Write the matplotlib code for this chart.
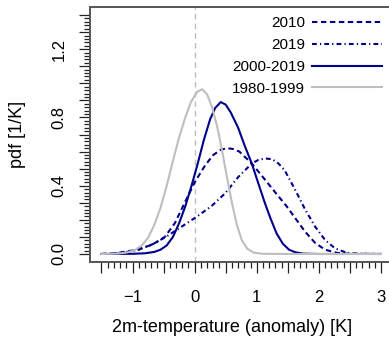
import matplotlib
matplotlib.use('Agg')
import matplotlib.pyplot as plt
from matplotlib.ticker import FixedLocator, FixedFormatter

plt.rcParams['font.family'] = ['Liberation Sans', 'DejaVu Sans']

# ---- data ----
x_1980_1999 = [-1.5, -1.25, -1.1, -0.96, -0.85, -0.75, -0.65, -0.55, -0.45, -0.36, -0.26,
               -0.16, -0.06, 0.04, 0.12, 0.20, 0.28, 0.36, 0.44, 0.52, 0.60, 0.68, 0.76,
               0.85, 0.95, 1.1, 1.5, 3.0]
y_1980_1999 = [0.0, 0.002, 0.008, 0.023, 0.05, 0.095, 0.17, 0.27, 0.40, 0.53, 0.67,
               0.79, 0.89, 0.95, 0.965, 0.935, 0.86, 0.75, 0.61, 0.45, 0.30, 0.17, 0.08,
               0.03, 0.008, 0.001, 0.0, 0.0]

x_2000_2019 = [-1.5, -1.0, -0.8, -0.65, -0.55, -0.45, -0.35, -0.25, -0.15, -0.05, 0.05,
               0.15, 0.25, 0.33, 0.42, 0.50, 0.58, 0.70, 0.80, 0.92, 1.02, 1.12, 1.22,
               1.32, 1.42, 1.52, 1.62, 1.75, 2.0, 3.0]
y_2000_2019 = [0.0, 0.001, 0.004, 0.012, 0.025, 0.05, 0.10, 0.18, 0.28, 0.40, 0.53,
               0.67, 0.79, 0.855, 0.89, 0.875, 0.83, 0.74, 0.64, 0.53, 0.42, 0.31, 0.21,
               0.12, 0.06, 0.025, 0.01, 0.002, 0.0, 0.0]

x_2010 = [-1.5, -1.28, -0.96, -0.69, -0.48, -0.32, -0.16, 0.0, 0.17, 0.30, 0.42, 0.52,
          0.62, 0.72, 0.92, 1.1, 1.3, 1.48, 1.62, 1.78, 1.94, 2.1, 2.3, 2.5, 3.0]
y_2010 = [0.0, 0.004, 0.023, 0.053, 0.10, 0.18, 0.30, 0.42, 0.52, 0.58, 0.61, 0.62,
          0.615, 0.60, 0.53, 0.45, 0.36, 0.28, 0.21, 0.13, 0.065, 0.025, 0.006, 0.001, 0.0]

x_2019 = [-1.5, -1.23, -0.91, -0.64, -0.42, -0.21, 0.0, 0.27, 0.49, 0.70, 0.92, 1.02,
          1.13, 1.25, 1.35, 1.45, 1.62, 1.78, 1.94, 2.10, 2.26, 2.47, 2.7, 3.0]
y_2019 = [0.0, 0.004, 0.023, 0.063, 0.11, 0.16, 0.21, 0.28, 0.355, 0.45, 0.53, 0.55,
          0.56, 0.555, 0.53, 0.49, 0.375, 0.26, 0.16, 0.082, 0.033, 0.004, 0.001, 0.0]

x_ticks_major = [-1.5, -1.0, -0.5, 0.0, 0.5, 1.0, 1.5, 2.0, 2.5, 3.0]
x_tick_labels = ['', '\u22121', '', '0', '', '1', '', '2', '', '3']
y_ticks_major = [0.0, 0.1, 0.2, 0.3, 0.4, 0.5, 0.6, 0.7, 0.8, 0.9, 1.0, 1.1, 1.2, 1.3, 1.4]
y_tick_labels = ['0.0', '', '', '', '0.4', '', '', '', '0.8', '', '', '', '1.2', '', '']

BLUE = '#00008B'
GREY = '#BEBEBE'

fig = plt.figure(figsize=(3.89, 3.39), dpi=100)
W, H = 389, 339
ax = fig.add_axes([90 / W, 77 / H, 303 / W, 255 / H])

ax.axvline(0, color=GREY, lw=1.0, ls=(0, (4, 3)), zorder=1)

l2010, = ax.plot(x_2010, y_2010, color=BLUE, lw=1.5, ls=(0, (2.6, 1.7)), label='2010')
l2019, = ax.plot(x_2019, y_2019, color=BLUE, lw=1.5, ls=(0, (2.3, 1.5, 0.6, 1.5)), label='2019')
l0019, = ax.plot(x_2000_2019, y_2000_2019, color=BLUE, lw=1.5, ls='-', label='2000-2019')
l8099, = ax.plot(x_1980_1999, y_1980_1999, color=GREY, lw=1.5, ls='-', label='1980-1999')

ax.set_xlim(-1.685, 3.194)
ax.set_ylim(-0.047, 1.447)

ax.xaxis.set_major_locator(FixedLocator(x_ticks_major))
ax.xaxis.set_major_formatter(FixedFormatter(x_tick_labels))
ax.xaxis.set_minor_locator(FixedLocator([round(-1.5 + 0.1 * i, 2) for i in range(46)]))
ax.yaxis.set_major_locator(FixedLocator(y_ticks_major))
ax.yaxis.set_major_formatter(FixedFormatter(y_tick_labels))
ax.yaxis.set_minor_locator(FixedLocator([round(0.02 * i, 2) for i in range(71)]))

ax.tick_params(which='major', length=8, width=0.9, color='#222222', labelsize=12, direction='out')
ax.tick_params(which='minor', length=4.5, width=0.9, color='#222222', direction='out')
ax.tick_params(axis='x', which='major', pad=12)
ax.tick_params(axis='y', which='major', pad=9)
for lab in ax.get_yticklabels():
    lab.set_rotation(90)
    lab.set_va('center')

for s in ['left', 'top', 'bottom']:
    ax.spines[s].set_color('#555555')
    ax.spines[s].set_linewidth(1.4)
ax.spines['right'].set_visible(False)

fig.text(17 / W, 1 - 134 / H, 'pdf [1/K]', rotation=90, ha='center', va='center', fontsize=13)
fig.text(232 / W, 1 - 327 / H, '2m-temperature (anomaly) [K]', ha='center', va='center', fontsize=13)

leg = ax.legend(handles=[l2010, l2019, l0019, l8099], loc='upper right',
                bbox_to_anchor=(382 / W, 1 - 16 / H), bbox_transform=fig.transFigure,
                frameon=False, markerfirst=False, fontsize=11, handlelength=4.6,
                handletextpad=0.45, labelspacing=0.52, borderpad=0, borderaxespad=0)

fig.savefig('out.png', dpi=100)
